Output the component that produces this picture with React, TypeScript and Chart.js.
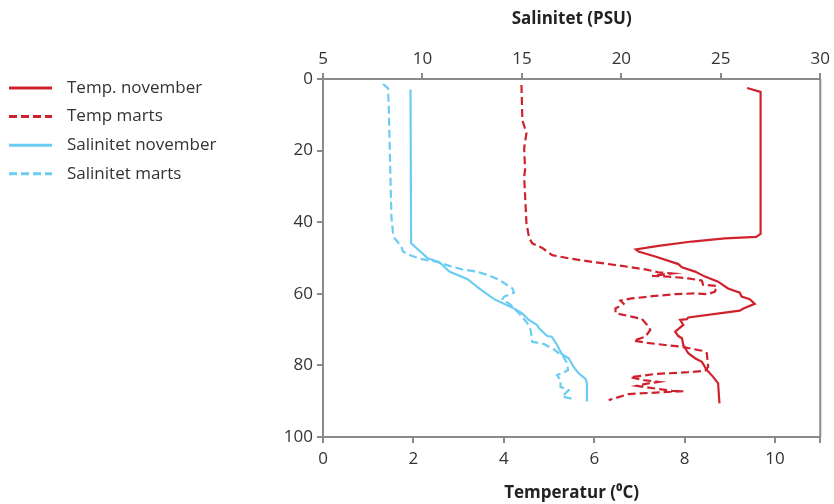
import { useEffect, useRef } from 'react';
import { Chart, registerables } from 'chart.js';

Chart.register(...registerables);

// [depth (m), temperature (°C)]
const tempNovember: [number, number][] = [
  [2.5, 9.38], [3.6, 9.68], [43.3, 9.68], [44.1, 9.58], [44.5, 8.89], [45.4, 8.16], [46.6, 7.42],
  [47.6, 6.92], [48.2, 6.98], [49.6, 7.35], [51.7, 7.86], [52.6, 7.94], [53.8, 8.23], [55.2, 8.45],
  [56.6, 8.74], [58.5, 8.96], [59.7, 9.22], [60.8, 9.26], [61.5, 9.44], [62.8, 9.55], [64.1, 9.3],
  [64.7, 9.22], [66.6, 8.08], [67.1, 8.05], [67.3, 7.9], [68.7, 7.97], [70.6, 7.79], [71.8, 7.86],
  [72.4, 7.94], [74.3, 7.97], [76.6, 8.08], [78.0, 8.23], [79.0, 8.38], [81.3, 8.49], [83.2, 8.63],
  [85.0, 8.74], [90.6, 8.77],
];

const tempMarts: [number, number][] = [
  [1.7, 4.39], [11.5, 4.41], [15.1, 4.5], [19.3, 4.45], [25.4, 4.47], [27.3, 4.45], [40.2, 4.5],
  [44.4, 4.56], [45.9, 4.63], [47.2, 4.85], [49.2, 5.07], [50.1, 5.44], [51.0, 5.92], [52.2, 6.61],
  [53.2, 7.13], [54.0, 7.42], [54.3, 7.72], [55.0, 7.28], [55.2, 7.64], [55.7, 8.08], [56.3, 8.38],
  [57.5, 8.41], [57.8, 8.71], [59.4, 8.67], [60.1, 8.52], [59.9, 8.23], [60.1, 7.79], [60.6, 7.35],
  [61.3, 6.83], [61.9, 6.58], [62.8, 6.65], [64.1, 6.47], [65.4, 6.47], [66.2, 6.76], [67.0, 7.05],
  [68.7, 7.17], [70.1, 7.24], [72.0, 7.13], [73.1, 6.87], [73.7, 7.17], [74.3, 7.57], [74.8, 7.94],
  [75.9, 8.38], [76.6, 8.49], [80.4, 8.52], [81.5, 8.45], [81.9, 8.08], [82.4, 7.35], [83.3, 6.8],
  [84.1, 7.09], [84.6, 7.42], [85.0, 7.2], [85.7, 6.94], [86.2, 7.2], [87.1, 7.72], [87.2, 7.97],
  [87.6, 7.35], [88.0, 6.76], [89.7, 6.32],
];

// [depth (m), salinity (PSU)]
const salNovember: [number, number][] = [
  [2.9, 9.4], [45.9, 9.43], [50.1, 10.27], [51.2, 10.85], [53.8, 11.35], [55.9, 12.27], [58.5, 12.85],
  [61.5, 13.6], [63.8, 14.5], [65.4, 15.0], [67.3, 15.35], [68.7, 15.77], [69.6, 15.85], [71.8, 16.27],
  [72.0, 16.5], [74.3, 16.77], [76.8, 17.0], [78.0, 17.35], [80.4, 17.6], [82.2, 17.85], [83.8, 18.2],
  [85.0, 18.27], [90.1, 18.27],
];

const salMarts: [number, number][] = [
  [1.4, 8.02], [2.6, 8.27], [6.7, 8.3], [38.5, 8.44], [43.1, 8.52], [44.5, 8.6], [46.8, 8.94],
  [48.2, 9.02], [49.4, 9.44], [50.4, 10.02], [51.0, 10.69], [52.2, 11.35], [53.2, 12.02], [53.8, 12.69],
  [54.7, 13.27], [56.1, 13.85], [58.5, 14.52], [59.7, 14.6], [60.8, 14.1], [61.5, 14.02], [63.1, 14.44],
  [65.4, 14.85], [68.2, 15.27], [70.1, 15.44], [73.4, 15.52], [74.0, 16.1], [75.5, 16.6], [77.7, 17.1],
  [79.4, 17.27], [81.3, 17.32], [82.0, 17.1], [82.7, 16.77], [84.1, 16.94], [86.0, 16.94], [86.9, 17.35],
  [88.7, 17.02], [89.2, 17.44], [89.7, 17.69],
];

const seriesLabels = ['Temp. november', 'Temp marts', 'Salinitet november', 'Salinitet marts'];
const depthTicks = [0, 20, 40, 60, 80, 100];
const tempTicks = [0, 2, 4, 6, 8, 10];
const salTicks = [5, 10, 15, 20, 25, 30];

const RED = '#d0222e';
const BLUE = '#6ccdf3';
const AXIS = '#8a8a8a';
const TEXT = '#333333';
const FONT = "'Open Sans', sans-serif";
const DASH = [8, 4];

const toPoints = (arr: [number, number][]) => arr.map(([d, v]) => ({ x: v, y: d }));

const legendPlugin = {
  id: 'sideLegend',
  afterDraw(chart: any) {
    const { ctx } = chart;
    const styles = [
      { color: RED, dash: [] as number[] },
      { color: RED, dash: DASH },
      { color: BLUE, dash: [] as number[] },
      { color: BLUE, dash: DASH },
    ];
    ctx.save();
    seriesLabels.forEach((label, i) => {
      const y = 88 + i * 28.6;
      ctx.beginPath();
      ctx.setLineDash(styles[i].dash);
      ctx.strokeStyle = styles[i].color;
      ctx.lineWidth = 3;
      ctx.moveTo(9, y);
      ctx.lineTo(52, y);
      ctx.stroke();
      ctx.setLineDash([]);
      ctx.fillStyle = TEXT;
      ctx.font = `17px ${FONT}`;
      ctx.textBaseline = 'middle';
      ctx.textAlign = 'left';
      ctx.fillText(label, 67, y);
    });
    // right frame line
    const { chartArea } = chart;
    ctx.beginPath();
    ctx.strokeStyle = AXIS;
    ctx.lineWidth = 2;
    ctx.moveTo(chartArea.right, chartArea.top);
    ctx.lineTo(chartArea.right, chartArea.bottom);
    ctx.stroke();
    ctx.restore();
  },
};

export default function App() {
  const ref = useRef<HTMLCanvasElement>(null);

  useEffect(() => {
    const tickFont = { family: FONT, size: 17 };
    const titleFont = { family: FONT, size: 17, weight: 'bold' as const };
    const grid = {
      drawOnChartArea: false,
      drawTicks: true,
      tickLength: 6,
      color: AXIS,
      lineWidth: 2,
    };
    const border = { display: true, color: AXIS, width: 2 };

    const chart = new Chart(ref.current!, {
      type: 'scatter',
      data: {
        datasets: [
          {
            label: seriesLabels[0],
            data: toPoints(tempNovember),
            xAxisID: 'x',
            borderColor: RED,
            backgroundColor: RED,
          },
          {
            label: seriesLabels[1],
            data: toPoints(tempMarts),
            xAxisID: 'x',
            borderColor: RED,
            backgroundColor: RED,
            borderDash: DASH,
          },
          {
            label: seriesLabels[2],
            data: toPoints(salNovember),
            xAxisID: 'x2',
            borderColor: BLUE,
            backgroundColor: BLUE,
          },
          {
            label: seriesLabels[3],
            data: toPoints(salMarts),
            xAxisID: 'x2',
            borderColor: BLUE,
            backgroundColor: BLUE,
            borderDash: DASH,
          },
        ].map((d) => ({
          ...d,
          showLine: true,
          pointRadius: 0,
          pointHoverRadius: 0,
          borderWidth: 2.2,
          tension: 0,
        })),
      },
      options: {
        animation: false,
        responsive: false,
        events: [],
        layout: { padding: { left: 273, right: 12, top: 0, bottom: 0 } },
        plugins: {
          legend: { display: false },
          tooltip: { enabled: false },
        },
        scales: {
          x: {
            type: 'linear',
            position: 'bottom',
            min: 0,
            max: 11,
            afterBuildTicks: (s: any) => {
              s.ticks = [...tempTicks, 11].map((v) => ({ value: v }));
            },
            ticks: {
              font: tickFont,
              color: TEXT,
              padding: 6,
              maxRotation: 0,
              callback: (v: any) => (tempTicks.includes(Number(v)) ? String(v) : ''),
            },
            grid,
            border,
            title: {
              display: true,
              text: 'Temperatur (⁰C)',
              font: titleFont,
              color: '#222',
              padding: { top: 0, bottom: 1 },
            },
            afterFit: (s: any) => {
              s.height = 67;
            },
          },
          x2: {
            type: 'linear',
            position: 'top',
            min: 5,
            max: 30,
            afterBuildTicks: (s: any) => {
              s.ticks = salTicks.map((v) => ({ value: v }));
            },
            ticks: { font: tickFont, color: TEXT, padding: 4, maxRotation: 0 },
            grid,
            border,
            title: {
              display: true,
              text: 'Salinitet (PSU)',
              font: titleFont,
              color: '#222',
              padding: { top: 9, bottom: 0 },
            },
            afterFit: (s: any) => {
              s.height = 79;
            },
          },
          y: {
            type: 'linear',
            reverse: true,
            min: 0,
            max: 100,
            afterBuildTicks: (s: any) => {
              s.ticks = depthTicks.map((v) => ({ value: v }));
            },
            ticks: { font: tickFont, color: TEXT, padding: 4 },
            grid,
            border,
            afterFit: (s: any) => {
              s.width = 50;
            },
          },
        },
      },
      plugins: [legendPlugin],
    });
    return () => chart.destroy();
  }, []);

  return (
    <div style={{ position: 'absolute', left: 0, top: 0, width: 834, height: 504 }}>
      <canvas ref={ref} width={834} height={504} style={{ display: 'block' }} />
    </div>
  );
}
